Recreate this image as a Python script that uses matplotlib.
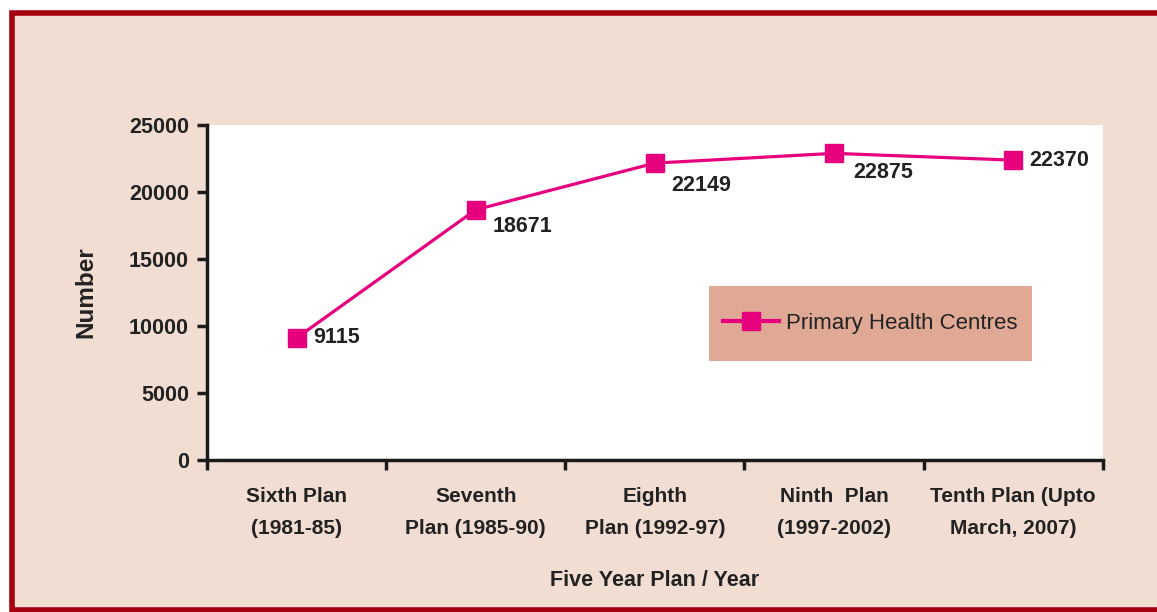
import matplotlib.pyplot as plt
from matplotlib.patches import Rectangle
from matplotlib.ticker import FixedLocator, NullFormatter

plans = ['Sixth Plan\n(1981-85)', 'Seventh\nPlan (1985-90)', 'Eighth\nPlan (1992-97)',
         'Ninth  Plan\n(1997-2002)', 'Tenth Plan (Upto\nMarch, 2007)']
phc = [9115, 18671, 22149, 22875, 22370]
yticks = [0, 5000, 10000, 15000, 20000, 25000]

line_col = '#e6007e'
panel_col = '#f2ddd3'
legend_col = '#dfa995'
border_col = '#a50010'
text_col = '#222222'

plt.rcParams['font.family'] = ['Liberation Sans', 'DejaVu Sans']

fig = plt.figure(figsize=(11.57, 6.12), dpi=100)
fig.patch.set_facecolor('white')
# pink panel with dark red frame (right edge runs off the picture)
fig.patches.append(Rectangle((0.0108, 0.003), 1.1, 0.975, transform=fig.transFigure,
                             facecolor=panel_col, edgecolor=border_col, linewidth=4, zorder=-5))

ax = fig.add_axes([0.179, 0.248, 0.774, 0.548])
ax.set_zorder(2)
ax.set_facecolor('white')
x = list(range(len(phc)))
ax.plot(x, phc, color=line_col, lw=2.3, marker='s', ms=12.5, mec=line_col,
        label='Primary Health Centres', clip_on=False, zorder=3)

# value labels
offsets = [(12, 0), (12, -12), (12, -16), (14, -14), (12, 0)]
for xi, v, (dx, dy) in zip(x, phc, offsets):
    ax.annotate(str(v), (xi, v), xytext=(dx, dy), textcoords='offset points',
                ha='left', va='center', fontsize=15.5, fontweight='bold', color=text_col)

ax.set_xlim(-0.5, 4.5)
ax.set_ylim(0, 25000)
ax.set_yticks(yticks)
ax.set_yticklabels([str(t) for t in yticks], fontsize=15.5, fontweight='bold', color=text_col)

ax.xaxis.set_major_locator(FixedLocator([i - 0.5 for i in range(len(phc) + 1)]))
ax.xaxis.set_major_formatter(NullFormatter())
ax.set_xticks(x, minor=True)
ax.set_xticklabels(plans, minor=True, fontsize=15, fontweight='bold', color=text_col,
                   linespacing=1.9)
ax.tick_params(axis='x', which='minor', length=0, pad=19)
ax.tick_params(axis='both', which='major', length=7, width=2.5, color='#1a1a1a', direction='out')
ax.tick_params(axis='y', pad=6)

for s in ['top', 'right']:
    ax.spines[s].set_visible(False)
for s in ['left', 'bottom']:
    ax.spines[s].set_linewidth(2.5)
    ax.spines[s].set_color('#1a1a1a')

ax.set_ylabel('Number', fontsize=17.5, fontweight='bold', color=text_col, labelpad=23)
ax.set_xlabel('Five Year Plan / Year', fontsize=15.5, fontweight='bold', color=text_col,
              labelpad=23)

# legend box
ax.add_patch(Rectangle((0.56, 0.296), 0.361, 0.224, transform=ax.transAxes,
                       facecolor=legend_col, edgecolor='none', zorder=2))
leg = ax.legend(loc='center', bbox_to_anchor=(0.7405, 0.408), frameon=False, fontsize=16,
                handlelength=2.5, handletextpad=0.3, labelcolor=text_col)
for h in leg.get_lines():
    h.set_linewidth(3)

fig.savefig('out.png', dpi=100, facecolor=fig.get_facecolor())
